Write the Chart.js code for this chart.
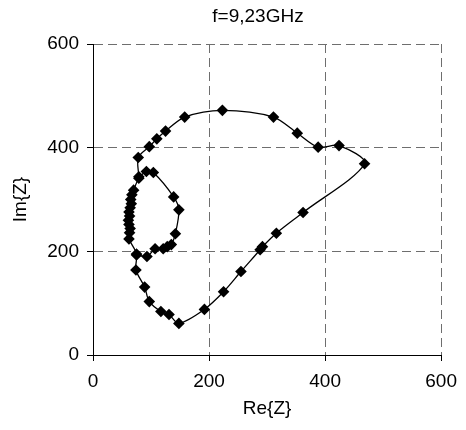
<!DOCTYPE html>
<html>
<head>
<meta charset="utf-8">
<script src="https://cdn.jsdelivr.net/npm/chart.js@4"></script>
<style>
    html, body { margin: 0; padding: 0; background: #fff; }
    #wrap { width: 466px; height: 430px; }
</style>
</head>
<body>
<div id="wrap"><canvas id="chart" width="466" height="430"></canvas></div>
<script>
// Impedance locus, f = 9,23 GHz
const chartTitle = 'f=9,23GHz';
const xTitle = 'Re{Z}';
const yTitle = 'Im{Z}';
const axisTicks = [0, 200, 400, 600];

const reZ = [75, 93, 107, 121, 128, 135, 142, 148, 139, 104, 92, 79,
    70, 67, 65, 66, 64, 62, 63, 61, 62, 64, 63, 62,
    75, 74, 89, 97, 117, 131, 148, 192, 225, 255, 288, 292, 316, 362,
    468, 424, 388, 352, 311, 223, 158, 125, 110, 97, 78, 79];
const imZ = [193, 190, 205, 205, 209, 213, 234, 280, 305, 352, 354, 341,
    318, 309, 300, 292, 284, 276, 268, 260, 252, 244, 236, 224,
    195, 164, 131, 103, 84, 78, 61, 88, 122, 161, 203, 209, 235, 275,
    369, 404, 401, 428, 459, 472, 459, 432, 417, 402, 381, 344];

const FONT = { family: '"Liberation Sans", Arial, sans-serif', size: 19 };

const points = reZ.map((x, i) => ({ x, y: imZ[i] }));

// title sits a bit left of the plot centre in the reference
const titlePlugin = {
    id: 'plainTitle',
    afterDraw(chart) {
        const ctx = chart.ctx;
        ctx.save();
        ctx.font = `${FONT.size}px ${FONT.family}`;
        ctx.fillStyle = '#000';
        ctx.textAlign = 'center';
        ctx.textBaseline = 'middle';
        ctx.fillText(chartTitle, 258, 17);
        ctx.restore();
    },
};

function axis_opts(title, pos) {
    return {
        type: 'linear',
        position: pos,
        min: 0,
        max: 600,
        afterBuildTicks: scale => { scale.ticks = axisTicks.map(v => ({ value: v })); },
        afterFit: scale => {
            if (pos === 'left') scale.width = 93;
            else scale.height = 75;
        },
        ticks: { color: '#000', font: FONT, padding: pos === 'left' ? 8 : 9 },
        grid: {
            color: '#6e6e6e',
            lineWidth: 1,
            tickLength: 6,
            tickColor: '#000',
            tickBorderDash: [],
        },
        border: { display: true, color: '#000', width: 1, dash: [9, 5] },
        title: {
            display: true,
            text: title,
            color: '#000',
            font: FONT,
            padding: pos === 'left' ? { top: 9, bottom: 0 } : { top: 0, bottom: 10 },
        },
    };
}

new Chart(document.getElementById('chart'), {
    type: 'scatter',
    data: {
        datasets: [{
            data: points,
            showLine: true,
            borderColor: '#000',
            borderWidth: 1.3,
            tension: 0.3,
            pointStyle: 'rectRot',
            pointRadius: 5.8,
            pointBackgroundColor: '#000',
            pointBorderColor: '#000',
            pointBorderWidth: 0,
        }],
    },
    options: {
        responsive: false,
        animation: false,
        layout: { padding: { left: 0, right: 24, top: 44, bottom: 0 } },
        scales: {
            x: axis_opts(xTitle, 'bottom'),
            y: axis_opts(yTitle, 'left'),
        },
        plugins: {
            legend: { display: false },
            tooltip: { enabled: false },
            title: { display: false },
        },
    },
    plugins: [titlePlugin],
});
</script>
</body>
</html>
